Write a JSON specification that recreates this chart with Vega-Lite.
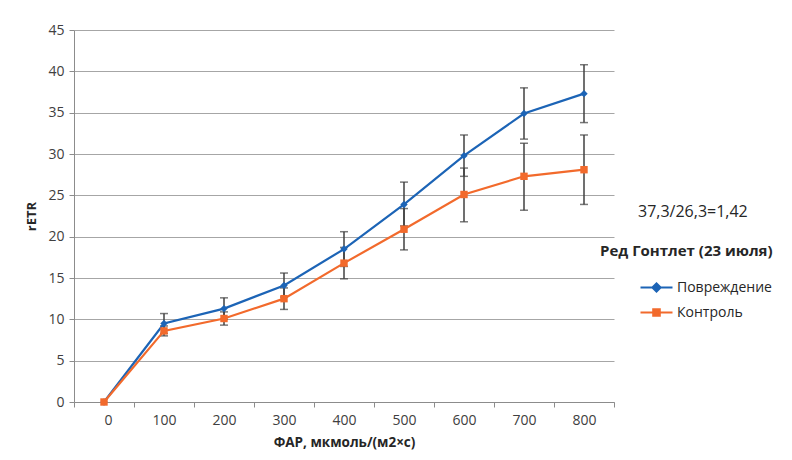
{
  "$schema": "https://vega.github.io/schema/vega-lite/v6.json",
  "width": 540,
  "height": 372,
  "autosize": {"type": "none"},
  "padding": {"left": 74, "top": 30, "right": 178, "bottom": 58},
  "background": "white",
  "config": {
    "font": "Open Sans",
    "view": {"stroke": null},
    "axis": {
      "labelFont": "Open Sans",
      "labelFontSize": 14,
      "labelColor": "#404040",
      "titleFont": "Open Sans",
      "titleColor": "#262626",
      "titleFontWeight": "bold",
      "domainColor": "#8c8c8c",
      "tickColor": "#8c8c8c",
      "tickSize": 5,
      "gridColor": "#a6a6a6"
    }
  },
  "title": {
    "text": "37,3/26,3=1,42",
    "anchor": "start",
    "dx": 612,
    "dy": 201,
    "fontSize": 16,
    "fontWeight": "normal",
    "color": "#262626",
    "font": "Open Sans"
  },
  "data": {
    "values": [
      {"series": "Повреждение", "par": 0, "retr": 0, "lo": null, "hi": null},
      {"series": "Повреждение", "par": 100, "retr": 9.5, "lo": 8.3, "hi": 10.7},
      {"series": "Повреждение", "par": 200, "retr": 11.3, "lo": 10.0, "hi": 12.6},
      {"series": "Повреждение", "par": 300, "retr": 14.1, "lo": 12.7, "hi": 15.6},
      {"series": "Повреждение", "par": 400, "retr": 18.5, "lo": 16.4, "hi": 20.6},
      {"series": "Повреждение", "par": 500, "retr": 23.9, "lo": 21.3, "hi": 26.6},
      {"series": "Повреждение", "par": 600, "retr": 29.8, "lo": 27.3, "hi": 32.3},
      {"series": "Повреждение", "par": 700, "retr": 34.9, "lo": 31.8, "hi": 38.0},
      {"series": "Повреждение", "par": 800, "retr": 37.3, "lo": 33.8, "hi": 40.8},
      {"series": "Контроль", "par": 0, "retr": 0, "lo": null, "hi": null},
      {"series": "Контроль", "par": 100, "retr": 8.6, "lo": 8.0, "hi": 9.2},
      {"series": "Контроль", "par": 200, "retr": 10.1, "lo": 9.3, "hi": 10.9},
      {"series": "Контроль", "par": 300, "retr": 12.5, "lo": 11.2, "hi": 13.8},
      {"series": "Контроль", "par": 400, "retr": 16.8, "lo": 14.9, "hi": 18.7},
      {"series": "Контроль", "par": 500, "retr": 20.9, "lo": 18.4, "hi": 23.4},
      {"series": "Контроль", "par": 600, "retr": 25.1, "lo": 21.8, "hi": 28.3},
      {"series": "Контроль", "par": 700, "retr": 27.3, "lo": 23.2, "hi": 31.3},
      {"series": "Контроль", "par": 800, "retr": 28.1, "lo": 23.9, "hi": 32.3}
    ]
  },
  "encoding": {
    "x": {
      "field": "par",
      "type": "quantitative",
      "scale": {"domain": [-50, 850], "nice": false, "zero": false},
      "axis": {
        "title": "ФАР, мкмоль/(м2×с)",
        "titleFontSize": 13.5,
        "titlePadding": 8,
        "values": [-50, 50, 150, 250, 350, 450, 550, 650, 750, 850],
        "labelExpr": "datum.value < 800 ? format(datum.value + 50, 'd') : ''",
        "labelOffset": 30,
        "labelPadding": 6,
        "grid": false
      }
    }
  },
  "layer": [
    {
      "mark": {"type": "rule", "color": "#404040", "strokeWidth": 1.5},
      "encoding": {
        "y": {
          "field": "lo",
          "type": "quantitative",
          "scale": {"domain": [0, 45], "nice": false},
          "axis": {
            "title": "rETR",
            "titleFontSize": 13,
            "titlePadding": 9,
            "values": [0, 5, 10, 15, 20, 25, 30, 35, 40, 45],
            "labelPadding": 5,
            "grid": true
          }
        },
        "y2": {"field": "hi"}
      }
    },
    {
      "mark": {"type": "tick", "orient": "horizontal", "color": "#404040", "size": 8, "thickness": 1.5},
      "encoding": {"y": {"field": "lo", "type": "quantitative"}}
    },
    {
      "mark": {"type": "tick", "orient": "horizontal", "color": "#404040", "size": 8, "thickness": 1.5},
      "encoding": {"y": {"field": "hi", "type": "quantitative"}}
    },
    {
      "mark": {"type": "line", "strokeWidth": 2.2},
      "encoding": {
        "y": {"field": "retr", "type": "quantitative"},
        "color": {
          "field": "series",
          "type": "nominal",
          "sort": null,
          "scale": {"domain": ["Повреждение", "Контроль"], "range": ["#1C64B6", "#F26A2C"]},
          "legend": {
            "title": "Ред Гонтлет (23 июля)",
            "orient": "none",
            "legendX": 526,
            "legendY": 214,
            "padding": 0,
            "titleFont": "Open Sans",
            "titleFontSize": 15,
            "titleFontWeight": "bold",
            "titleColor": "#262626",
            "titlePadding": 19,
            "labelFont": "Open Sans",
            "labelFontSize": 14,
            "labelColor": "#262626",
            "labelOffset": 19,
            "symbolOffset": 39,
            "symbolSize": 256,
            "symbolStrokeWidth": 2.2,
            "symbolType": "M-1,0H3",
            "rowPadding": 7,
            "encode": {
              "symbols": {
                "update": {
                  "shape": {"signal": "datum.value === 'Повреждение' ? 'M-1,0H3M1,-0.5L1.5,0L1,0.5L0.5,0Z' : 'M-1,0H3M0.6,-0.4H1.4V0.4H0.6Z'"},
                  "fill": {"scale": "color", "field": "value"},
                  "stroke": {"scale": "color", "field": "value"},
                  "strokeWidth": {"value": 2.2},
                  "opacity": {"value": 1}
                }
              }
            }
          }
        }
      }
    },
    {
      "transform": [{"filter": "datum.series === 'Повреждение'"}],
      "mark": {"type": "point", "shape": "diamond", "filled": true, "opacity": 1, "size": 55},
      "encoding": {
        "y": {"field": "retr", "type": "quantitative"},
        "color": {"field": "series", "type": "nominal", "sort": null}
      }
    },
    {
      "transform": [{"filter": "datum.series === 'Контроль'"}],
      "mark": {"type": "point", "shape": "square", "filled": true, "opacity": 1, "size": 55},
      "encoding": {
        "y": {"field": "retr", "type": "quantitative"},
        "color": {"field": "series", "type": "nominal", "sort": null}
      }
    }
  ]
}
